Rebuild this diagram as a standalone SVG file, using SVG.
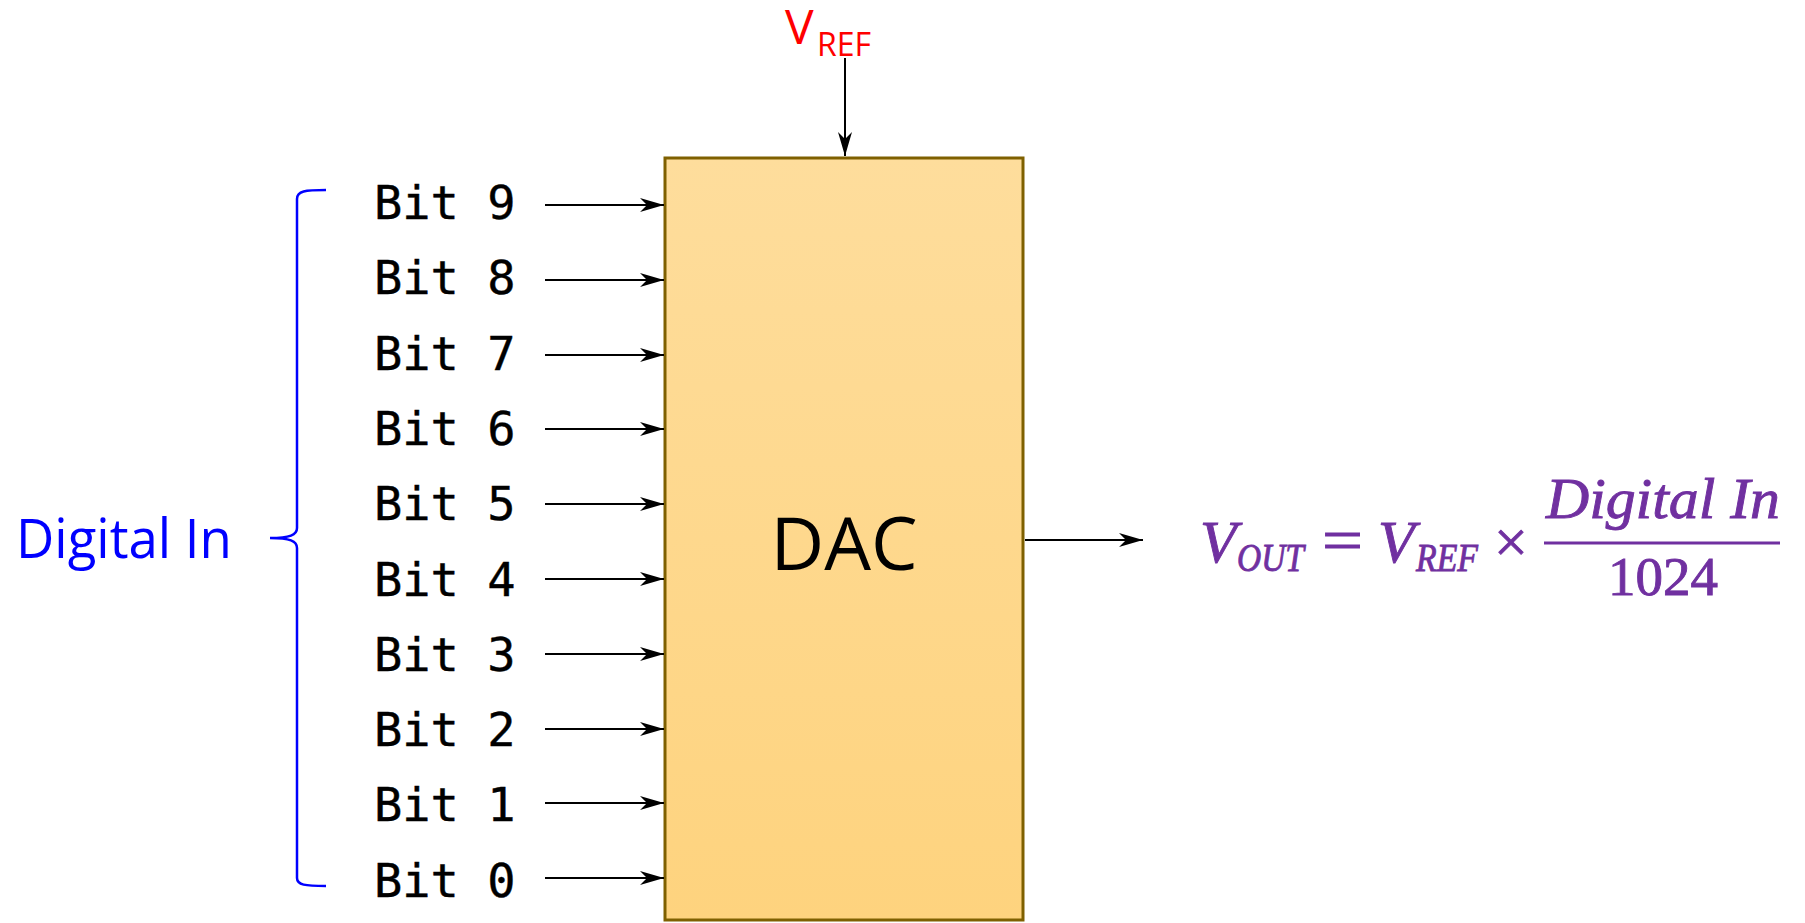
<svg xmlns="http://www.w3.org/2000/svg" width="1805" height="923" viewBox="0 0 1805 923">
<style>
.bit{font-family:"DejaVu Sans Mono","Liberation Mono",monospace;font-size:47px;fill:#000;stroke:#000;stroke-width:0.4}
.wire{stroke:#000;stroke-width:2;fill:none}
.f{font-family:"Liberation Serif","DejaVu Serif",serif;font-style:italic;fill:#7030A0;stroke:#7030A0;stroke-width:0.9}
.fu{font-family:"Liberation Serif","DejaVu Serif",serif;fill:#7030A0;stroke:#7030A0;stroke-width:0.9}
</style>
<defs>
<linearGradient id="g" x1="0" y1="0" x2="0" y2="1">
<stop offset="0" stop-color="#FEDD9C"/>
<stop offset="1" stop-color="#FED37E"/>
</linearGradient>
<marker id="ah" markerUnits="userSpaceOnUse" markerWidth="30" markerHeight="20" viewBox="-26 -10 28 20" refX="0" refY="0" orient="auto">
<path d="M -24 -7 L 0 0 L -24 7 L -17 0 Z" fill="#000"/>
</marker>
</defs>
<g id="dac">
<rect x="665" y="158" width="358" height="762" fill="url(#g)" stroke="#7F6000" stroke-width="3"/>
<text x="844" y="570" text-anchor="middle" font-family="Open Sans,Noto Sans,sans-serif" font-size="74">DAC</text>
</g>
<g id="vref">
<text font-family="Open Sans,Noto Sans,sans-serif" fill="#FF0000"><tspan x="785" y="44" font-size="48">V</tspan><tspan x="817" y="56" font-size="32">REF</tspan></text>
</g>
<g id="bits">
<text class="bit" x="374" y="219">Bit 9</text>
<text class="bit" x="374" y="294">Bit 8</text>
<text class="bit" x="374" y="370">Bit 7</text>
<text class="bit" x="374" y="445">Bit 6</text>
<text class="bit" x="374" y="520">Bit 5</text>
<text class="bit" x="374" y="596">Bit 4</text>
<text class="bit" x="374" y="671">Bit 3</text>
<text class="bit" x="374" y="746">Bit 2</text>
<text class="bit" x="374" y="821">Bit 1</text>
<text class="bit" x="374" y="897">Bit 0</text>
</g>
<g id="digital-in">
<path d="M 326 190 C 305 190 297 191 297 199 L 297 528 C 297 535 290 538 270 538 C 290 538 297 541 297 548 L 297 878 C 297 885 305 886 326 886" fill="none" stroke="#0000FF" stroke-width="2.5"/>
<text x="16" y="558" font-family="Open Sans,Noto Sans,sans-serif" font-size="54" fill="#0000FF" textLength="216" lengthAdjust="spacingAndGlyphs">Digital In</text>
</g>
<g id="formula">
<text class="f" x="1200" y="562" font-size="60">V</text>
<text class="f" x="1237" y="571" font-size="40" textLength="67" lengthAdjust="spacingAndGlyphs">OUT</text>
<text class="fu" x="1322" y="560" font-size="60" textLength="41" lengthAdjust="spacingAndGlyphs">=</text>
<text class="f" x="1378" y="562" font-size="60">V</text>
<text class="f" x="1416" y="571" font-size="40" textLength="62" lengthAdjust="spacingAndGlyphs">REF</text>
<text class="fu" x="1494" y="562" font-size="60">×</text>
<line x1="1544" y1="543" x2="1780" y2="543" stroke="#7030A0" stroke-width="3"/>
<text class="f" x="1546" y="518" font-size="58" textLength="234" lengthAdjust="spacingAndGlyphs">Digital In</text>
<text class="fu" x="1663" y="595" font-size="55" text-anchor="middle">1024</text>
</g>
<g id="connectors">
<line class="wire" x1="845" y1="58" x2="845" y2="156" marker-end="url(#ah)"/>
<line class="wire" x1="545" y1="205" x2="664" y2="205" marker-end="url(#ah)"/>
<line class="wire" x1="545" y1="280" x2="664" y2="280" marker-end="url(#ah)"/>
<line class="wire" x1="545" y1="355" x2="664" y2="355" marker-end="url(#ah)"/>
<line class="wire" x1="545" y1="429" x2="664" y2="429" marker-end="url(#ah)"/>
<line class="wire" x1="545" y1="504" x2="664" y2="504" marker-end="url(#ah)"/>
<line class="wire" x1="545" y1="579" x2="664" y2="579" marker-end="url(#ah)"/>
<line class="wire" x1="545" y1="654" x2="664" y2="654" marker-end="url(#ah)"/>
<line class="wire" x1="545" y1="729" x2="664" y2="729" marker-end="url(#ah)"/>
<line class="wire" x1="545" y1="803" x2="664" y2="803" marker-end="url(#ah)"/>
<line class="wire" x1="545" y1="878" x2="664" y2="878" marker-end="url(#ah)"/>
<line class="wire" x1="1025" y1="540" x2="1143" y2="540" marker-end="url(#ah)"/>
</g>
</svg>
